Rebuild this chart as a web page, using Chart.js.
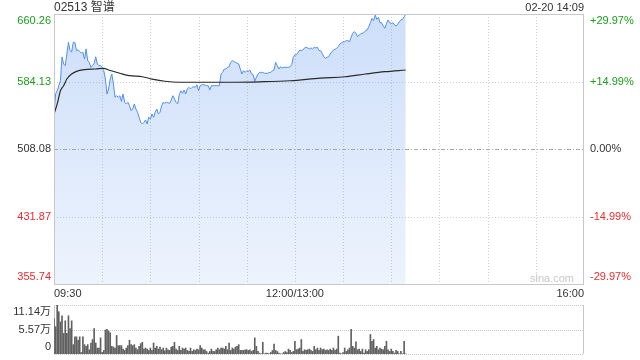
<!DOCTYPE html>
<html><head><meta charset="utf-8">
<script src="https://cdn.jsdelivr.net/npm/chart.js@4"></script>
<style>
html,body{margin:0;padding:0;background:#fff;}
#wrap{position:relative;width:640px;height:360px;overflow:hidden;font-family:Arial,"Liberation Sans","Noto Sans CJK SC",sans-serif;}
canvas{position:absolute;left:0;}
#main{top:0;}
#vol{top:300px;}
.t{position:absolute;color:#333;line-height:14px;white-space:nowrap;}
</style></head>
<body><div id="wrap">
<canvas id="main" width="640" height="300"></canvas>
<canvas id="vol" width="640" height="60"></canvas>
<div class="t" style="left:54px;top:0;font-size:12px;">02513 智谱</div>
<div class="t" style="right:56px;top:0;font-size:11px;">02-20 14:09</div>
<div class="t" style="right:66px;top:271px;font-size:11px;color:#c8c8c8;">sina.com</div>
</div>
<script>
// trading minutes since 09:30 (150 = 13:00 after lunch break)
const priceMinutes = [0,1,2,4,5,6,7,8,9,10,11,12,13,14,15,16,17,18,19,20,21,22,23,24,25,26,27,28,29,30,
31,32,33,34,35,36,37,38,39,40,41,42,43,44,45,46,47,48,49,50,51,52,53,54,55,56,57,58,59,60,
61,62,63,64,65,66,67,68,69,70,72,73,74,75,76,77,78,79,80,81,82,83,84,85,86,87,88,89,90,
91,92,93,95,96,97,98,100,101,102,103,104,105,106,107,108,109,110,111,112,113,115,116,117,118,119,120,
121,122,123,124,125,126,127,128,129,130,131,133,134,135,136,137,138,139,140,141,142,143,144,145,146,147,148,149,150,
151,152,153,154,155,156,157,158,159,160,161,162,163,164,165,166,167,168,169,170,
171,172,173,174,175,176,177,178,179,180,181,182,183,184,185,186,187,188,189,190,
191,192,193,194,195,196,197,198,199,200,201,202,203,204,205,206,207,208,209,210,
211,212,213,214,215,216,217,218,219];
const prices = [547.5,570.0,573.7,585.0,611.8,603.9,602.0,615.2,628.3,618.9,617.4,628.3,628.3,618.9,619.7,618.2,616.3,617.0,609.5,620.9,607.5,605.7,600.1,602.0,604.7,612.0,603.9,602.0,602.0,600.1,
596.3,586.9,570.0,575.7,586.9,592.6,581.3,566.3,568.1,566.3,568.1,561.8,570.0,560.7,558.8,560.7,556.8,551.2,553.1,558.8,553.1,549.4,543.8,538.1,536.2,538.1,540.7,536.2,543.8,541.8,
547.5,543.8,549.4,553.1,547.5,549.4,556.8,560.7,559.5,560.7,559.5,563.2,568.1,564.4,560.7,558.8,569.2,573.7,570.8,574.5,570.0,575.7,577.6,575.7,577.6,578.3,577.6,580.5,573.7,
579.4,580.5,580.5,579.4,579.4,574.5,579.4,579.4,579.4,579.4,579.4,592.6,594.4,598.2,598.2,600.1,600.8,605.7,607.5,606.8,605.7,603.9,598.2,592.6,596.3,594.4,596.3,
595.6,597.1,592.6,591.8,584.4,589.0,592.6,594.4,594.4,594.4,593.4,593.4,594.4,594.4,596.3,597.1,605.7,602.0,598.2,600.8,599.3,600.1,600.1,600.1,600.1,600.8,603.1,611.4,614.3,
614.3,617.0,619.7,618.9,619.7,622.0,622.7,622.0,620.9,622.0,620.9,622.7,622.0,622.7,618.9,618.9,616.0,612.0,610.3,611.4,
612.0,615.2,617.7,619.7,620.5,621.6,623.4,626.5,627.9,628.7,629.0,630.2,630.2,629.0,634.0,638.6,640.4,638.6,634.7,636.6,
637.7,638.6,639.3,641.5,642.3,646.0,650.4,655.4,652.8,659.0,654.3,656.5,650.4,650.4,646.8,644.2,649.7,653.5,650.4,649.7,
650.4,647.8,646.8,648.8,651.6,653.5,654.3,657.2,660.26];
const avgMinutes = [0,2,4,6,8,11,14,19,26,31,34,41,47,55,61,69,78,91,110,128,147,166,181,194,206,219];
const avgPrices = [547.5,558.8,573.7,579.4,586.9,592.6,595.6,597.5,598.2,599.0,597.1,593.4,590.7,589.5,586.9,584.4,583.3,583.3,583.3,583.8,585.0,588.0,589.5,592.6,595.2,597.1];
// volume per minute (万股), from 09:30
const volumes = [8.08,6.22,11.14,9.62,7.30,8.70,4.68,7.54,4.68,8.70,
5.76,7.54,2.13,3.90,3.90,3.13,3.90,0.35,3.90,2.13,
1.74,2.13,0.97,2.51,3.29,5.76,2.51,1.35,1.35,3.67,
0.35,0.81,5.45,5.60,5.22,4.83,1.74,1.58,1.35,4.21,
1.89,1.89,1.89,1.12,0.81,1.35,1.89,3.13,2.13,1.89,
2.13,1.35,0.97,1.74,2.36,2.67,1.12,1.35,1.12,0.81,
1.35,0.81,2.51,1.35,1.74,1.12,1.58,0.97,1.35,0.73,
1.35,0.97,0.81,1.58,1.74,2.67,1.12,0.81,1.74,0.81,
1.35,1.12,1.35,0.81,0.58,1.35,0.58,0.97,0.81,1.12,
0.97,1.89,1.35,0.97,0.97,0.58,0.19,0.58,1.12,0.58,
0.58,0.97,1.35,0.97,1.35,1.35,1.12,1.74,0.97,2.51,
0.81,1.35,1.12,1.58,1.74,2.13,0.81,0.81,0.81,0.97,
0.97,0.81,0.97,0.58,0.81,3.67,1.74,0.58,0.19,0.04,
2.67,0.04,0.19,0.19,0.04,0.35,0.81,2.28,0.81,0.58,
0.19,0.04,0.02,0.35,0.58,0.35,1.12,0.81,0.35,0.58,
2.90,0.97,1.12,1.35,3.29,0.58,0.97,0.81,0.97,1.12,
0.81,0.58,1.74,0.97,1.35,0.81,1.35,0.97,1.12,0.81,
0.97,0.81,1.12,0.81,1.35,0.81,1.12,4.06,0.19,0.04,
0.35,1.35,0.58,0.97,1.35,5.60,1.74,1.35,2.74,0.97,
1.12,0.58,1.12,0.19,0.97,0.58,0.97,4.44,2.90,3.29,
1.35,1.74,0.97,1.35,1.12,0.97,1.74,2.90,0.97,0.58,
1.12,0.58,0.19,0.81,0.58,0.04,0.58,0.04,2.90,0.04];
const priceTicks = [355.74, 431.87, 508.00, 584.13, 660.26];
const priceTickLabels = ['355.74','431.87','508.08','584.13','660.26'];
const pctTickLabels = ['-29.97%','-14.99%','0.00%','+14.99%','+29.97%'];
const tickColors = ['#ee2a2a','#ee2a2a','#333333','#1a9e1a','#1a9e1a'];
const timeTicks = [0,30,60,90,120,150,180,210,240,270,300,330];
const timeTickLabels = {0:'09:30',150:'12:00/13:00',330:'16:00'};
const volTicks = [0, 5.57, 11.14];
const volTickLabels = ['0','5.57万','11.14万'];

const FONT = {family:'Arial, "Liberation Sans", "Noto Sans CJK SC", sans-serif', size:11};
const edgeLabel = (txt,i,n) => i===n-1 ? ['',txt] : (i===0 ? [txt,''] : txt);
const noPad = (s,w) => { if(w!==undefined) s.width=w; s.paddingTop=0; s.paddingBottom=0; s.paddingLeft=0; s.paddingRight=0; };

function hline(ctx,a,y,dash,color){ctx.beginPath();ctx.setLineDash(dash);ctx.strokeStyle=color;ctx.moveTo(a.left,y);ctx.lineTo(a.right,y);ctx.stroke();}

const mainGrid = {
  id:'mainGrid',
  beforeDatasetsDraw(chart){
    const {ctx, chartArea:a, scales:{x,y}} = chart;
    ctx.save(); ctx.lineWidth=1;
    x.ticks.forEach(t=>{
      if(t.value<=x.min||t.value>=x.max) return;
      const px=Math.round(x.getPixelForValue(t.value))+0.5;
      ctx.beginPath();ctx.setLineDash([1,2]);ctx.strokeStyle='#cfcfcf';
      ctx.moveTo(px,a.top);ctx.lineTo(px,a.bottom);ctx.stroke();
    });
    y.ticks.forEach((t,i)=>{
      if(i===0||i===y.ticks.length-1) return;
      const py=Math.round(y.getPixelForValue(t.value))+0.5;
      if(i===2) hline(ctx,a,py,[4,2,1,2],'#a8a8a8'); else hline(ctx,a,py,[1,2],'#cfcfcf');
    });
    ctx.restore();
  },
  afterDraw(chart){
    const {ctx, chartArea:a} = chart;
    ctx.save();ctx.lineWidth=1;ctx.setLineDash([]);ctx.strokeStyle='#c8c8c8';
    ctx.strokeRect(Math.round(a.left)+0.5,Math.round(a.top)+0.5,Math.round(a.right-a.left)-1,Math.round(a.bottom-a.top));
    ctx.restore();
  }
};

new Chart(document.getElementById('main'), {
  type:'line',
  data:{datasets:[
    {data:avgMinutes.map((m,i)=>({x:m,y:avgPrices[i]})), borderColor:'#2a2a2a', borderWidth:1.2, pointRadius:0, fill:false, cubicInterpolationMode:'monotone'},
    {data:priceMinutes.map((m,i)=>({x:m,y:prices[i]})), borderColor:'#4f8ff0', borderWidth:1, pointRadius:0, tension:0, fill:'start',
     backgroundColor:(c)=>{const a=c.chart.chartArea; if(!a) return 'rgba(110,160,240,0.2)';
       const g=c.chart.ctx.createLinearGradient(0,a.top,0,a.bottom); g.addColorStop(0,'rgba(110,160,240,0.34)'); g.addColorStop(1,'rgba(110,160,240,0.12)'); return g;}}
  ]},
  options:{
    responsive:false, animation:false, events:[],
    layout:{padding:{top:14,left:0,right:0,bottom:0}},
    plugins:{legend:{display:false}, tooltip:{enabled:false}},
    scales:{
      x:{type:'linear', min:0, max:330, afterBuildTicks:s=>{s.ticks=timeTicks.map(v=>({value:v}));},
         afterFit:s=>{noPad(s); s.height=16;}, grid:{display:false,drawTicks:false}, border:{display:false},
         ticks:{autoSkip:false, maxRotation:0, align:'inner', padding:3, font:FONT, color:'#333',
           callback:(v)=> timeTickLabels[v] || ''}},
      y:{type:'linear', position:'left', min:priceTicks[0], max:priceTicks[priceTicks.length-1],
         afterBuildTicks:s=>{s.ticks=priceTicks.map(v=>({value:v}));}, afterFit:s=>noPad(s,54),
         grid:{display:false,drawTicks:false}, border:{display:false},
         ticks:{autoSkip:false, padding:3, font:FONT, color:c=>tickColors[c.index], callback:(v,i)=>edgeLabel(priceTickLabels[i],i,priceTicks.length)}},
      y2:{type:'linear', position:'right', min:priceTicks[0], max:priceTicks[priceTicks.length-1],
         afterBuildTicks:s=>{s.ticks=priceTicks.map(v=>({value:v}));}, afterFit:s=>noPad(s,56),
         grid:{display:false,drawTicks:false}, border:{display:false},
         ticks:{autoSkip:false, padding:6, font:FONT, color:c=>tickColors[c.index], callback:(v,i)=>edgeLabel(pctTickLabels[i],i,priceTicks.length)}}
    }
  },
  plugins:[mainGrid]
});

const volGrid = {
  id:'volGrid',
  beforeDatasetsDraw(chart){
    const {ctx, chartArea:a, scales:{y}} = chart;
    ctx.save(); ctx.lineWidth=1;
    y.ticks.forEach(t=>{
      const py=Math.round(y.getPixelForValue(t.value))+0.5;
      hline(ctx,a,py,[1,1],'#c8c8c8');
    });
    ctx.setLineDash([]);ctx.strokeStyle='#c8c8c8';
    ctx.beginPath();
    ctx.moveTo(Math.round(a.left)+0.5,a.top);ctx.lineTo(Math.round(a.left)+0.5,a.bottom);
    ctx.moveTo(Math.round(a.right)-0.5,a.top);ctx.lineTo(Math.round(a.right)-0.5,a.bottom);
    ctx.stroke();
    ctx.restore();
  }
};

new Chart(document.getElementById('vol'), {
  type:'bar',
  data:{datasets:[{data:volumes.map((v,i)=>({x:i,y:v})), backgroundColor:'#606060', borderWidth:0, barThickness:1}]},
  options:{
    responsive:false, animation:false, events:[],
    layout:{padding:{top:5,bottom:6,left:0,right:56}},
    plugins:{legend:{display:false}, tooltip:{enabled:false}},
    scales:{
      x:{type:'linear', min:0, max:330, display:false, offset:false, afterFit:s=>noPad(s)},
      y:{min:0, max:volTicks[volTicks.length-1], afterBuildTicks:s=>{s.ticks=volTicks.map(v=>({value:v}));}, afterFit:s=>noPad(s,54),
         grid:{display:false,drawTicks:false}, border:{display:false},
         ticks:{autoSkip:false, padding:3, font:FONT, color:'#333', callback:(v,i)=>edgeLabel(volTickLabels[i],i,volTicks.length)}}
    }
  },
  plugins:[volGrid]
});
</script>
</body></html>
